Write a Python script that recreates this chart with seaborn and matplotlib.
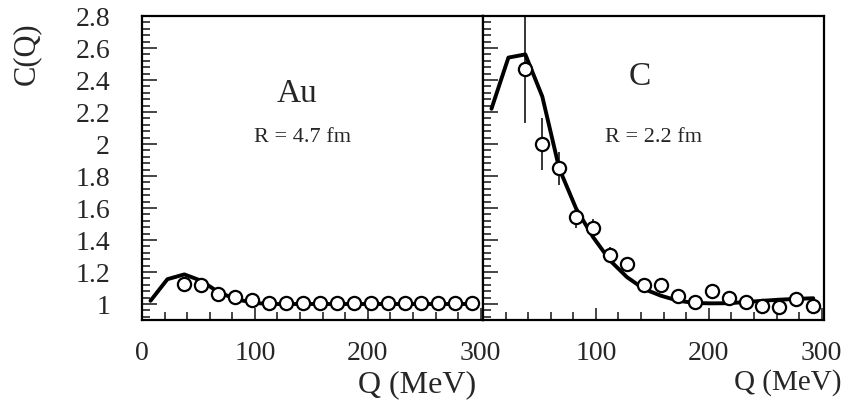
import numpy as np
import pandas as pd
import seaborn as sns
import matplotlib
matplotlib.use("Agg")
import matplotlib.pyplot as plt
from matplotlib.ticker import MultipleLocator

# ---------------- data ----------------
q_points = [37.5, 52.5, 67.5, 82.5, 97.5, 112.5, 127.5, 142.5, 157.5, 172.5,
            187.5, 202.5, 217.5, 232.5, 247.5, 262.5, 277.5, 292.5]
q_curve = [7.5, 22.5, 37.5, 52.5, 67.5, 82.5, 97.5, 112.5, 127.5, 142.5, 157.5,
           172.5, 187.5, 202.5, 217.5, 232.5, 247.5, 262.5, 277.5, 292.5]

au_points = [1.122, 1.120, 1.062, 1.042, 1.024, 1.008, 1.005, 1.005, 1.005, 1.005,
             1.005, 1.005, 1.005, 1.005, 1.005, 1.005, 1.005, 1.005]
au_curve = [1.02, 1.155, 1.185, 1.145, 1.075, 1.032, 1.008, 1.0, 1.0, 1.0, 1.0,
            1.0, 1.0, 1.0, 1.0, 1.0, 1.0, 1.0, 1.0, 1.0]

c_points = [2.47, 2.00, 1.847, 1.544, 1.475, 1.309, 1.249, 1.121, 1.119, 1.052,
            1.011, 1.083, 1.038, 1.011, 0.989, 0.983, 1.031, 0.986]
c_err = [0.34, 0.163, 0.105, 0.07, 0.058, 0.045, 0.04, 0.035, 0.035, 0.03,
         0.03, 0.03, 0.03, 0.03, 0.03, 0.03, 0.03, 0.03]
c_curve = [2.22, 2.54, 2.56, 2.297, 1.847, 1.596, 1.418, 1.272, 1.168, 1.094,
           1.052, 1.021, 1.006, 1.004, 1.005, 1.012, 1.02, 1.027, 1.032, 1.036]

au_err = [0.02] * len(q_points)
q_halfwidth = 6.0

xticks = [0, 100, 200, 300]
yticks = [1, 1.2, 1.4, 1.6, 1.8, 2, 2.2, 2.4, 2.6, 2.8]
ytick_labels = ["1", "1.2", "1.4", "1.6", "1.8", "2", "2.2", "2.4", "2.6", "2.8"]

panels = [
    dict(name="Au", radius="R = 4.7 fm", pts=au_points, err=au_err, curve=au_curve),
    dict(name="C", radius="R = 2.2 fm", pts=c_points, err=c_err, curve=c_curve),
]

# ---------------- style ----------------
sns.set_style("ticks")
plt.rcParams["font.family"] = ["Liberation Serif", "DejaVu Serif"]

fig = plt.figure(figsize=(8.47, 4.03), dpi=100)
ax_l = fig.add_axes([142 / 847, 1 - 320 / 403, 341 / 847, 304 / 403])
ax_r = fig.add_axes([483 / 847, 1 - 320 / 403, 341 / 847, 304 / 403])
axes = [ax_l, ax_r]

for i, (ax, p) in enumerate(zip(axes, panels)):
    curve_df = pd.DataFrame({"Q": q_curve, "C": p["curve"]})
    sns.lineplot(data=curve_df, x="Q", y="C", ax=ax, color="black", lw=2.8,
                 legend=False, zorder=2)
    ax.errorbar(q_points, p["pts"], yerr=p["err"], xerr=q_halfwidth, fmt="none",
                ecolor="black", elinewidth=1.1, capsize=0, zorder=3)
    pts_df = pd.DataFrame({"Q": q_points, "C": p["pts"]})
    sns.scatterplot(data=pts_df, x="Q", y="C", ax=ax, marker="o", s=90,
                    facecolor="white", edgecolor="black", linewidth=1.6,
                    zorder=4, legend=False)

    ax.set_xlim(0, 302)
    ax.set_ylim(0.9, 2.8)
    ax.xaxis.set_major_locator(MultipleLocator(100))
    ax.xaxis.set_minor_locator(MultipleLocator(20))
    ax.yaxis.set_major_locator(MultipleLocator(0.2))
    ax.yaxis.set_minor_locator(MultipleLocator(0.04))
    ax.set_yticks(yticks)
    ax.tick_params(axis="both", which="both", direction="in", top=False,
                   right=False, width=1.2, labelsize=20)
    ax.tick_params(axis="y", which="major", length=11, pad=23)
    ax.tick_params(axis="y", which="minor", length=6)
    ax.tick_params(axis="x", which="major", length=9, pad=15)
    ax.tick_params(axis="x", which="minor", length=6)
    for sp in ax.spines.values():
        sp.set_visible(True)
        sp.set_linewidth(1.6)
        sp.set_color("black")
    ax.set_xlabel("")
    ax.set_ylabel("")
    ax.set_xticks(xticks)
    ax.set_xticklabels([str(t) for t in xticks])
    if i == 0:
        ax.set_yticklabels(ytick_labels)
    else:
        ax.set_yticklabels([])
        ax.set_xticklabels(["", "100", "200", "300"])

# panel texts
ax_l.text(0.455, 0.745, "Au", transform=ax_l.transAxes, fontsize=24,
          ha="center", va="center")
ax_l.text(0.47, 0.60, "R = 4.7 fm", transform=ax_l.transAxes, fontsize=16,
          ha="center", va="center")
ax_r.text(0.46, 0.80, "C", transform=ax_r.transAxes, fontsize=24,
          ha="center", va="center")
ax_r.text(0.50, 0.60, "R = 2.2 fm", transform=ax_r.transAxes, fontsize=16,
          ha="center", va="center")

# axis titles
fig.text(417 / 847, 1 - 385 / 403, "Q (MeV)", fontsize=23, ha="center", va="center")
fig.text(788 / 847, 1 - 383 / 403, "Q (MeV)", fontsize=21, ha="center", va="center")
fig.text(26 / 847, 1 - 54 / 403, "C(Q)", fontsize=22, rotation=90,
         ha="center", va="center")

fig.savefig("out.png", dpi=100)
